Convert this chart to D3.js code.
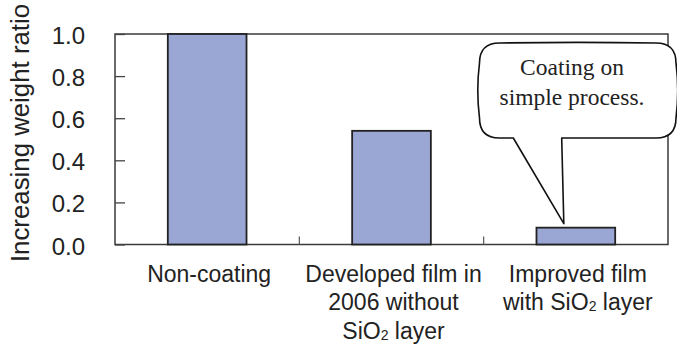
<!DOCTYPE html>
<html>
<head>
<meta charset="utf-8">
<script src="https://cdn.jsdelivr.net/npm/d3@7"></script>
<style>
html,body{margin:0;padding:0;background:#fff;}
svg{display:block;}
</style>
</head>
<body>
<svg id="chart" width="677" height="345"></svg>
<script>
// ---- data ----
const categories = ["Non-coating", "Developed film in 2006 without SiO2 layer", "Improved film with SiO2 layer"];
const categoryLines = [
  ["Non-coating"],
  ["Developed film in", "2006 without", "SiO₂ layer"],
  ["Improved film", "with SiO₂ layer"]
];
const values = [1.0, 0.54, 0.08];
const yTicks = [0.0, 0.2, 0.4, 0.6, 0.8, 1.0];
const yTitle = "Increasing weight ratio";
const calloutLines = ["Coating on", "simple process."];

// ---- layout ----
const plot = {left: 115, right: 668, top: 34, bottom: 244.5};
const svg = d3.select("#chart");

const x = d3.scaleBand().domain(categories).range([plot.left, plot.right]).padding(0);
const y = d3.scaleLinear().domain([0, 1]).range([plot.bottom, plot.top]);
const barW = x.bandwidth() * 0.427;

// plot frame
svg.append("rect")
  .attr("x", plot.left).attr("y", plot.top)
  .attr("width", plot.right - plot.left).attr("height", plot.bottom - plot.top)
  .attr("fill", "none").attr("stroke", "#3a3a3a").attr("stroke-width", 1.5);

// bars
svg.selectAll("rect.bar").data(values).join("rect")
  .attr("class", "bar")
  .attr("x", (d, i) => x(categories[i]) + x.bandwidth() / 2 - barW / 2)
  .attr("y", d => y(d))
  .attr("width", barW)
  .attr("height", d => y(0) - y(d))
  .attr("fill", "#9aa6d4")
  .attr("stroke", "#222").attr("stroke-width", 1.8);

// y axis ticks (inward) and labels
const yAxis = d3.axisRight(y).tickValues(yTicks).tickSize(10).tickFormat("");
const yg = svg.append("g").attr("transform", `translate(${plot.left},0)`).call(yAxis);
yg.select(".domain").remove();
yg.selectAll(".tick line").attr("stroke", "#444").attr("stroke-width", 1.3);

svg.selectAll("text.ylab").data(yTicks).join("text")
  .attr("class", "ylab")
  .attr("x", 85).attr("y", d => y(d) + 10)
  .attr("text-anchor", "end")
  .attr("font-family", "'Liberation Sans', Arial, sans-serif")
  .attr("font-size", 24).attr("fill", "#222")
  .text(d => d3.format(".1f")(d));

// category separator ticks on x axis (inward)
const seps = categories.slice(1).map(c => x(c));
svg.selectAll("line.sep").data(seps).join("line")
  .attr("class", "sep")
  .attr("x1", d => d).attr("x2", d => d)
  .attr("y1", plot.bottom).attr("y2", plot.bottom - 8)
  .attr("stroke", "#555").attr("stroke-width", 1.2);

// x category labels
categoryLines.forEach((lines, i) => {
  const cx = x(categories[i]) + x.bandwidth() / 2 + 2;
  lines.forEach((ln, j) => {
    const t = svg.append("text")
      .attr("x", cx).attr("y", 282 + j * 28.3)
      .attr("text-anchor", "middle")
      .attr("font-family", "'Liberation Sans', Arial, sans-serif")
      .attr("font-size", 23).attr("fill", "#222");
    if (ln.includes("₂")) {
      const parts = ln.split("₂");
      t.append("tspan").text(parts[0]);
      t.append("tspan").attr("font-size", 14).attr("dy", 1).text("2");
      t.append("tspan").attr("dy", -1).text(parts[1]);
    } else {
      t.text(ln);
    }
  });
});

// y title
svg.append("text")
  .attr("transform", `translate(29,133) rotate(-90)`)
  .attr("text-anchor", "middle")
  .attr("font-family", "'Liberation Sans', Arial, sans-serif")
  .attr("font-size", 25.8).attr("fill", "#222")
  .text(yTitle);

// callout
const i3 = 2;
const tipX = x(categories[i3]) + x.bandwidth() / 2 - 12;
const tipY = y(values[i3]) - 4;
const L = 479.5, R = 676, T = 43, B = 138, r = 20, bulge = 2.5;
const pb1 = 513.3, pb2 = 561.7;
const p = d3.path();
p.moveTo(L + r, T);
p.bezierCurveTo(L + 80, T - 1, R - 80, T - 1, R - r, T);
p.quadraticCurveTo(R, T, R, T + r);
p.bezierCurveTo(R + bulge, T + r + 20, R + bulge, B - r - 20, R, B - r);
p.quadraticCurveTo(R, B, R - r, B);
p.lineTo(pb2, B);
p.lineTo(tipX, tipY);
p.lineTo(pb1, B);
p.lineTo(L + r, B);
p.quadraticCurveTo(L, B, L, B - r);
p.bezierCurveTo(L - bulge, B - r - 20, L - bulge, T + r + 20, L, T + r);
p.quadraticCurveTo(L, T, L + r, T);
p.closePath();
svg.append("path").attr("d", p.toString())
  .attr("fill", "#fff").attr("stroke", "#111").attr("stroke-width", 1.6)
  .attr("stroke-linejoin", "round");

svg.selectAll("text.callout").data(calloutLines).join("text")
  .attr("class", "callout")
  .attr("x", 572).attr("y", (d, i) => 75 + i * 30)
  .attr("text-anchor", "middle")
  .attr("font-family", "'Liberation Serif', 'Times New Roman', serif")
  .attr("font-size", 23.5).attr("fill", "#222")
  .text(d => d);
</script>
</body>
</html>
